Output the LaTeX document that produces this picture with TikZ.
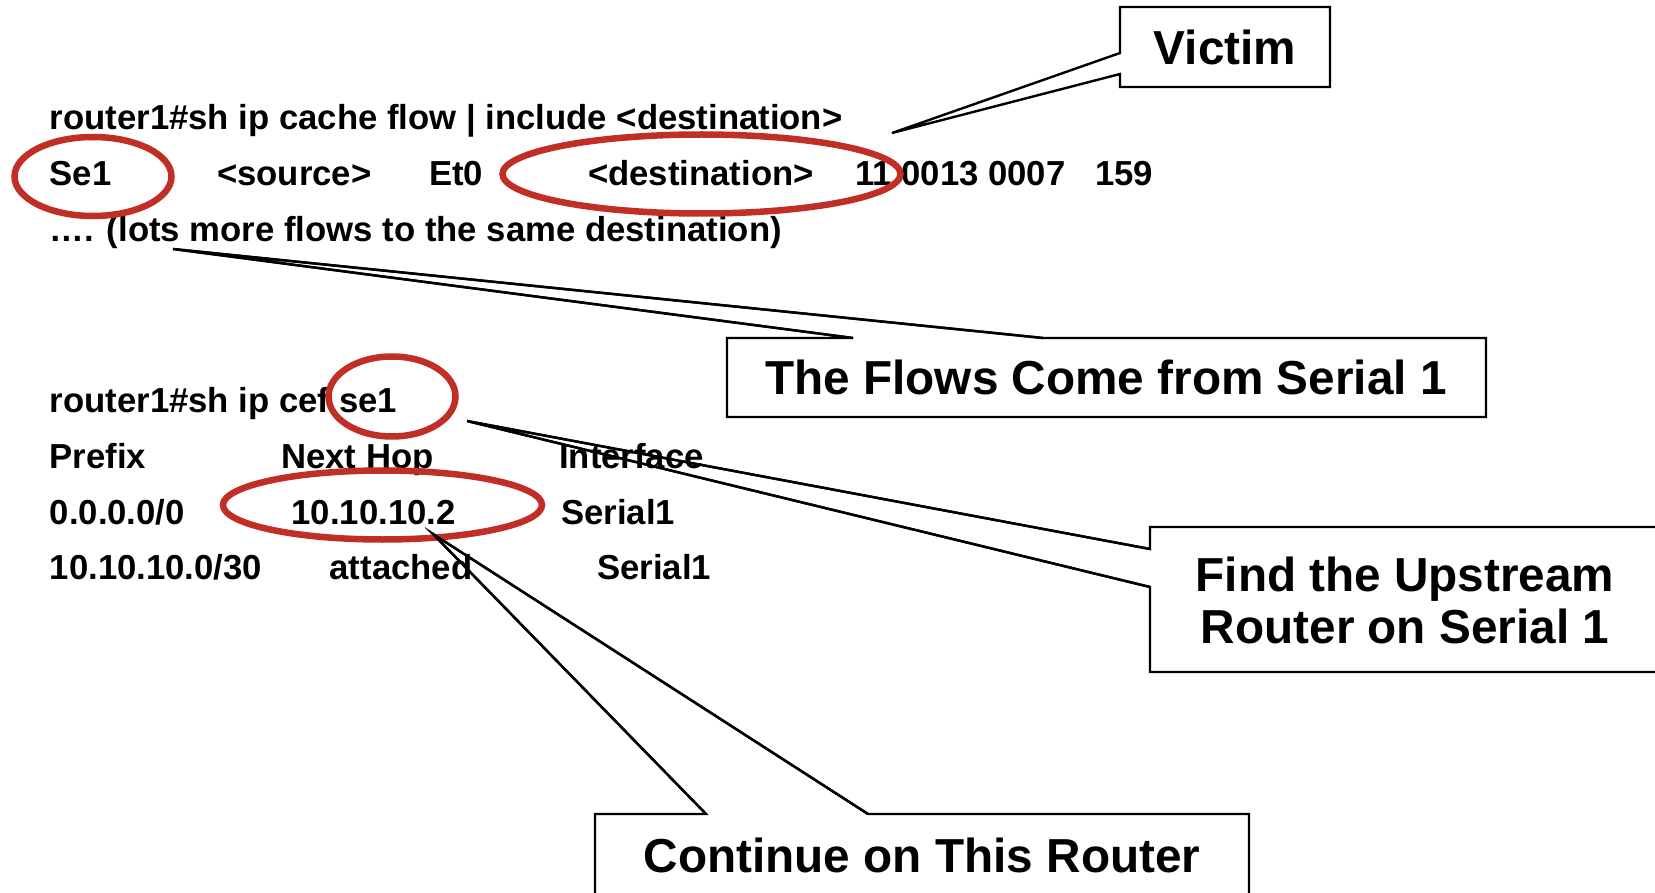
\documentclass[tikz,border=0pt]{standalone}
\usepackage{fontspec}
\setmainfont{Liberation Sans}
\begin{document}
\begin{tikzpicture}[x=1pt,y=-1pt,
  cli/.style={anchor=base west,inner sep=0pt,font=\fontsize{34.7}{41}\selectfont\bfseries},
  note/.style={anchor=base,inner sep=0pt,align=center,font=\fontsize{47.7}{52}\selectfont\bfseries},
  ring/.style={draw={rgb,255:red,192;green,46;blue,37},line width=6.5pt},
  callout/.style={draw=black,fill=white,line width=2.4pt,line join=miter},
  pointer/.style={draw=black,line width=2.4pt,line join=miter}]
\useasboundingbox (0,0) rectangle (1655,893);

% callout tips
\coordinate (tipV) at (892,133);
\coordinate (tipF) at (173,249);
\coordinate (tipU) at (467,421);
\coordinate (tipC) at (433,534);

% callout shapes
\draw[callout] (1120,53) -- (tipV) -- (1120,74) |- (1330,87) |- (1120,7) -- cycle;
\draw[callout] (853,338) -- (tipF) -- (1043,338) -| (1486,417) -| (727,338) -- cycle;
\draw[callout] (1150,549) -- (tipU) -- (1150,587) |- (1662,672) |- (1150,527) -- cycle;
\draw[callout] (706,814) -- (tipC) -- (868,814) -| (1249,900) -| (595,814) -- cycle;

\node[note] (victim) at (1225,65) {Victim};
\node[note] (flows) at (1106,395) {The Flows Come from Serial 1};
\node[note] (upstream) at (1405,643) {Find the Upstream\\Router on Serial 1};
\node[note] (cont) at (922,872) {Continue on This Router};

% netflow cache output
\node[cli] (l1) at (49.6,129.5) {router1\#sh ip cache flow | include <destination>};
\node[cli] (se) at (49.6,186) {Se1};
\node[cli] (src) at (217,186) {<source>};
\node[cli] (et) at (429,186) {Et0};
\node[cli] (dst) at (588,186) {<destination>};
\node[cli] (cnt) at (855,186) {11 0013 0007};
\node[cli] (pk) at (1095,186) {159};
\node[cli] (l3) at (49.6,241.5) {…. (lots more flows to the same destination)};

% cef output
\node[cli] (l4) at (49.6,412) {router1\#sh ip cef se1};
\node[cli] (h1) at (49.6,468) {Prefix};
\node[cli] (h2) at (281,468) {Next Hop};
\node[cli] (h3) at (559,468) {Interface};
\node[cli] (r1a) at (49.6,524) {0.0.0.0/0};
\node[cli] (r1b) at (291.5,524) {10.10.10.2};
\node[cli] (r1c) at (561,524) {Serial1};
\node[cli] (r2a) at (49.6,579.5) {10.10.10.0/30};
\node[cli] (r2b) at (329.5,579.5) {attached};
\node[cli] (r2c) at (597,579.5) {Serial1};

% red highlight rings
\draw[ring] (93,176.5) ellipse [x radius=78.5, y radius=39.5];
\draw[ring] (701.5,174) ellipse [x radius=199, y radius=39.5];
\draw[ring] (392,396.5) ellipse [x radius=63.5, y radius=40];
\draw[ring] (382.5,505) ellipse [x radius=159.5, y radius=34.5];

% pointers run over the table text
\draw[pointer] (1150,549) -- (tipU) -- (1150,587);
\draw[pointer] (706,814) -- (tipC) -- (868,814);
\draw[pointer] (853,338) -- (tipF) -- (1043,338);
\end{tikzpicture}
\end{document}
